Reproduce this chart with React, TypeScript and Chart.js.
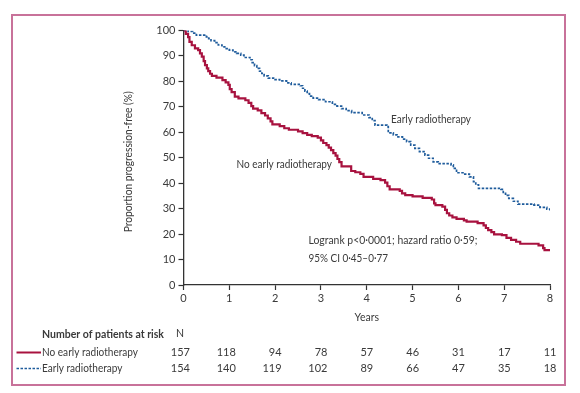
import React, { useEffect, useRef } from 'react';
import { Chart, registerables } from 'chart.js';

Chart.register(...registerables);

// Kaplan–Meier step data (years, % progression-free)
const noEarlyTimes = [0, 0.05, 0.1, 0.13, 0.18, 0.25, 0.32, 0.36, 0.4, 0.44, 0.47, 0.51, 0.54, 0.58, 0.62, 0.72, 0.85, 0.92, 0.98, 1.01, 1.05, 1.12, 1.2, 1.35, 1.42, 1.48, 1.52, 1.62, 1.7, 1.78, 1.84, 1.9, 1.94, 2.1, 2.2, 2.3, 2.5, 2.6, 2.7, 2.8, 2.93, 3.0, 3.05, 3.12, 3.17, 3.22, 3.27, 3.32, 3.36, 3.4, 3.45, 3.66, 3.75, 3.86, 3.93, 4.14, 4.3, 4.4, 4.45, 4.5, 4.72, 4.77, 4.84, 5.0, 5.22, 5.42, 5.47, 5.5, 5.65, 5.71, 5.75, 5.8, 5.87, 5.96, 6.12, 6.18, 6.42, 6.55, 6.6, 6.65, 6.72, 6.78, 6.95, 7.05, 7.15, 7.26, 7.35, 7.75, 7.85, 7.88, 8.0];
const noEarlyValues = [100, 98.7, 97.4, 95.5, 94.2, 93.0, 92.3, 91.0, 89.7, 88.0, 86.4, 85.1, 84.0, 83.0, 82.2, 81.5, 80.5, 79.6, 78.6, 77.0, 75.8, 74.0, 73.3, 72.6, 71.6, 70.3, 69.3, 68.6, 67.5, 66.6, 65.5, 64.3, 63.1, 62.4, 61.6, 61.0, 60.4, 59.7, 59.0, 58.5, 57.9, 56.8, 55.8, 55.0, 54.0, 53.0, 51.8, 50.8, 49.5, 48.3, 46.6, 44.8, 44.3, 43.7, 42.5, 41.7, 41.2, 40.2, 38.8, 37.6, 37.0, 36.0, 35.3, 34.8, 34.2, 33.6, 32.1, 31.4, 30.8, 29.5, 28.2, 27.3, 26.6, 26.0, 25.4, 24.9, 24.3, 23.4, 22.4, 21.6, 20.8, 19.9, 19.6, 18.5, 17.7, 17.0, 16.2, 15.6, 14.5, 13.7, 13.7];

const earlyTimes = [0, 0.1, 0.2, 0.28, 0.5, 0.55, 0.6, 0.68, 0.76, 0.84, 0.9, 1.0, 1.08, 1.16, 1.25, 1.32, 1.45, 1.5, 1.55, 1.6, 1.66, 1.71, 1.76, 1.85, 2.0, 2.1, 2.25, 2.35, 2.55, 2.6, 2.65, 2.7, 2.75, 2.83, 2.95, 3.1, 3.25, 3.35, 3.45, 3.55, 3.67, 3.9, 4.05, 4.12, 4.18, 4.44, 4.47, 4.58, 4.66, 4.78, 4.87, 4.96, 5.05, 5.15, 5.27, 5.35, 5.45, 5.56, 5.84, 5.89, 5.96, 6.1, 6.24, 6.33, 6.38, 6.44, 6.93, 6.98, 7.03, 7.1, 7.2, 7.3, 7.65, 7.78, 7.93, 8.0];
const earlyValues = [100, 99.6, 99.0, 98.2, 97.5, 96.8, 96.0, 95.2, 94.3, 93.6, 92.9, 92.3, 91.6, 91.0, 90.3, 89.4, 88.5, 87.4, 86.2, 85.1, 84.0, 83.1, 82.2, 81.3, 80.7, 80.2, 79.4, 78.8, 78.3, 77.3, 76.2, 75.2, 74.2, 73.4, 72.8, 72.0, 71.0, 70.3, 69.3, 68.5, 67.7, 66.8, 65.8, 64.6, 62.8, 62.2, 59.8, 59.0, 58.2, 57.3, 56.3, 55.0, 53.7, 52.4, 51.0, 49.8, 48.4, 47.7, 47.2, 45.8, 44.1, 43.6, 42.5, 40.6, 39.4, 38.0, 37.6, 36.0, 35.2, 34.0, 32.9, 31.8, 31.4, 30.5, 29.8, 28.8];

const yearTicks = [0, 1, 2, 3, 4, 5, 6, 7, 8];
const riskNoEarly = [157, 118, 94, 78, 57, 46, 31, 17, 11];
const riskEarly = [154, 140, 119, 102, 89, 66, 47, 35, 18];

const seriesLabels = ['No early radiotherapy', 'Early radiotherapy'];
const yTitle = 'Proportion progression-free (%)';
const xTitle = 'Years';
const riskTitle = 'Number of patients at risk';
const statLines = ['Logrank p<0\u00b70001; hazard ratio 0\u00b759;', '95% CI 0\u00b745\u20130\u00b777'];

const RED = '#a8123f';
const BLUE = '#1f5c9c';
const TEXT = '#3a3a3a';
const AXIS = '#333333';
const FONT = 'Lato';

const extrasPlugin = {
  id: 'extras',
  afterDraw(chart: any) {
    const ctx = chart.ctx as CanvasRenderingContext2D;
    const xs = chart.scales.x;
    const area = chart.chartArea;
    ctx.save();
    // frame
    ctx.strokeStyle = '#c8729a';
    ctx.lineWidth = 2;
    ctx.strokeRect(12, 15, 553, 370);

    ctx.fillStyle = TEXT;
    ctx.textBaseline = 'middle';
    // y title
    ctx.save();
    ctx.translate(129, (area.top + area.bottom) / 2 + 4);
    ctx.rotate(-Math.PI / 2);
    ctx.textAlign = 'center';
    ctx.font = `10.5px ${FONT}`;
    ctx.fillText(yTitle, 0, 0, 141);
    ctx.restore();

    // x title
    ctx.textAlign = 'center';
    ctx.font = `10.5px ${FONT}`;
    ctx.fillText(xTitle, (area.left + area.right) / 2, 318);

    // curve labels
    ctx.textAlign = 'left';
    ctx.font = `11px ${FONT}`;
    ctx.fillText(seriesLabels[1], 391, 119, 80);
    ctx.fillText(seriesLabels[0], 236.5, 164, 95.5);
    ctx.fillText(statLines[0], 308.5, 240, 169);
    ctx.fillText(statLines[1], 308.5, 258, 79.5);

    // risk table
    ctx.font = `bold 10.5px ${FONT}`;
    ctx.fillText(riskTitle, 42, 335, 123);
    ctx.font = `10.5px ${FONT}`;
    ctx.textAlign = 'center';
    ctx.fillText('N', 180, 334);
    ctx.textAlign = 'left';
    ctx.font = `11px ${FONT}`;
    ctx.fillText(seriesLabels[0], 42, 352, 96);
    ctx.fillText(seriesLabels[1], 42, 368, 80.5);

    ctx.strokeStyle = RED;
    ctx.lineWidth = 2;
    ctx.beginPath();
    ctx.moveTo(16.5, 352.5);
    ctx.lineTo(41, 352.5);
    ctx.stroke();
    ctx.strokeStyle = BLUE;
    ctx.lineWidth = 1.7;
    ctx.setLineDash([2.5, 1.5]);
    ctx.beginPath();
    ctx.moveTo(16.5, 368.5);
    ctx.lineTo(41, 368.5);
    ctx.stroke();
    ctx.setLineDash([]);

    ctx.textAlign = 'right';
    ctx.font = `11px ${FONT}`;
    yearTicks.forEach((t, i) => {
      const px = xs.getPixelForValue(t) + 6.5;
      ctx.fillText(String(riskNoEarly[i]), px, 352);
      ctx.fillText(String(riskEarly[i]), px, 368);
    });
    ctx.restore();
  },
};

export default function App() {
  const ref = useRef<HTMLCanvasElement | null>(null);
  useEffect(() => {
    if (!ref.current) return;
    const chart = new Chart(ref.current, {
      type: 'line',
      data: {
        datasets: [
          {
            label: seriesLabels[0],
            data: noEarlyTimes.map((t, i) => ({ x: t, y: noEarlyValues[i] })),
            borderColor: RED,
            borderWidth: 2.2,
            pointRadius: 0,
            stepped: 'before',
            fill: false,
          },
          {
            label: seriesLabels[1],
            data: earlyTimes.map((t, i) => ({ x: t, y: earlyValues[i] })),
            borderColor: BLUE,
            borderWidth: 1.7,
            borderDash: [2.5, 1.5],
            pointRadius: 0,
            stepped: 'before',
            fill: false,
          },
        ],
      },
      options: {
        animation: false,
        responsive: false,
        layout: { padding: { top: 30.5, right: 30, left: 0, bottom: 0 } },
        plugins: { legend: { display: false }, tooltip: { enabled: false } },
        scales: {
          x: {
            type: 'linear',
            min: 0,
            max: 8,
            afterFit: (s: any) => { s.height = 108; },
            afterBuildTicks: (s: any) => { s.ticks = yearTicks.map((v) => ({ value: v })); },
            ticks: { color: TEXT, font: { family: FONT, size: 11 }, padding: 2 },
            grid: { drawOnChartArea: false, drawTicks: true, tickLength: 5, tickColor: AXIS, tickWidth: 1.2 },
            border: { display: true, color: AXIS, width: 1.3 },
          },
          y: {
            type: 'linear',
            min: 0,
            max: 100,
            afterFit: (s: any) => { s.width = 183.5; },
            ticks: { stepSize: 10, color: TEXT, font: { family: FONT, size: 11 }, padding: 3 },
            grid: { drawOnChartArea: false, drawTicks: true, tickLength: 5, tickColor: AXIS, tickWidth: 1.2 },
            border: { display: true, color: AXIS, width: 1.3 },
          },
        },
      },
      plugins: [extrasPlugin],
    });
    return () => chart.destroy();
  }, []);
  return (
    <div style={{ position: 'absolute', left: 0, top: 0, width: 580, height: 393, background: '#fff' }}>
      <canvas ref={ref} width={580} height={393} style={{ display: 'block' }} />
    </div>
  );
}
